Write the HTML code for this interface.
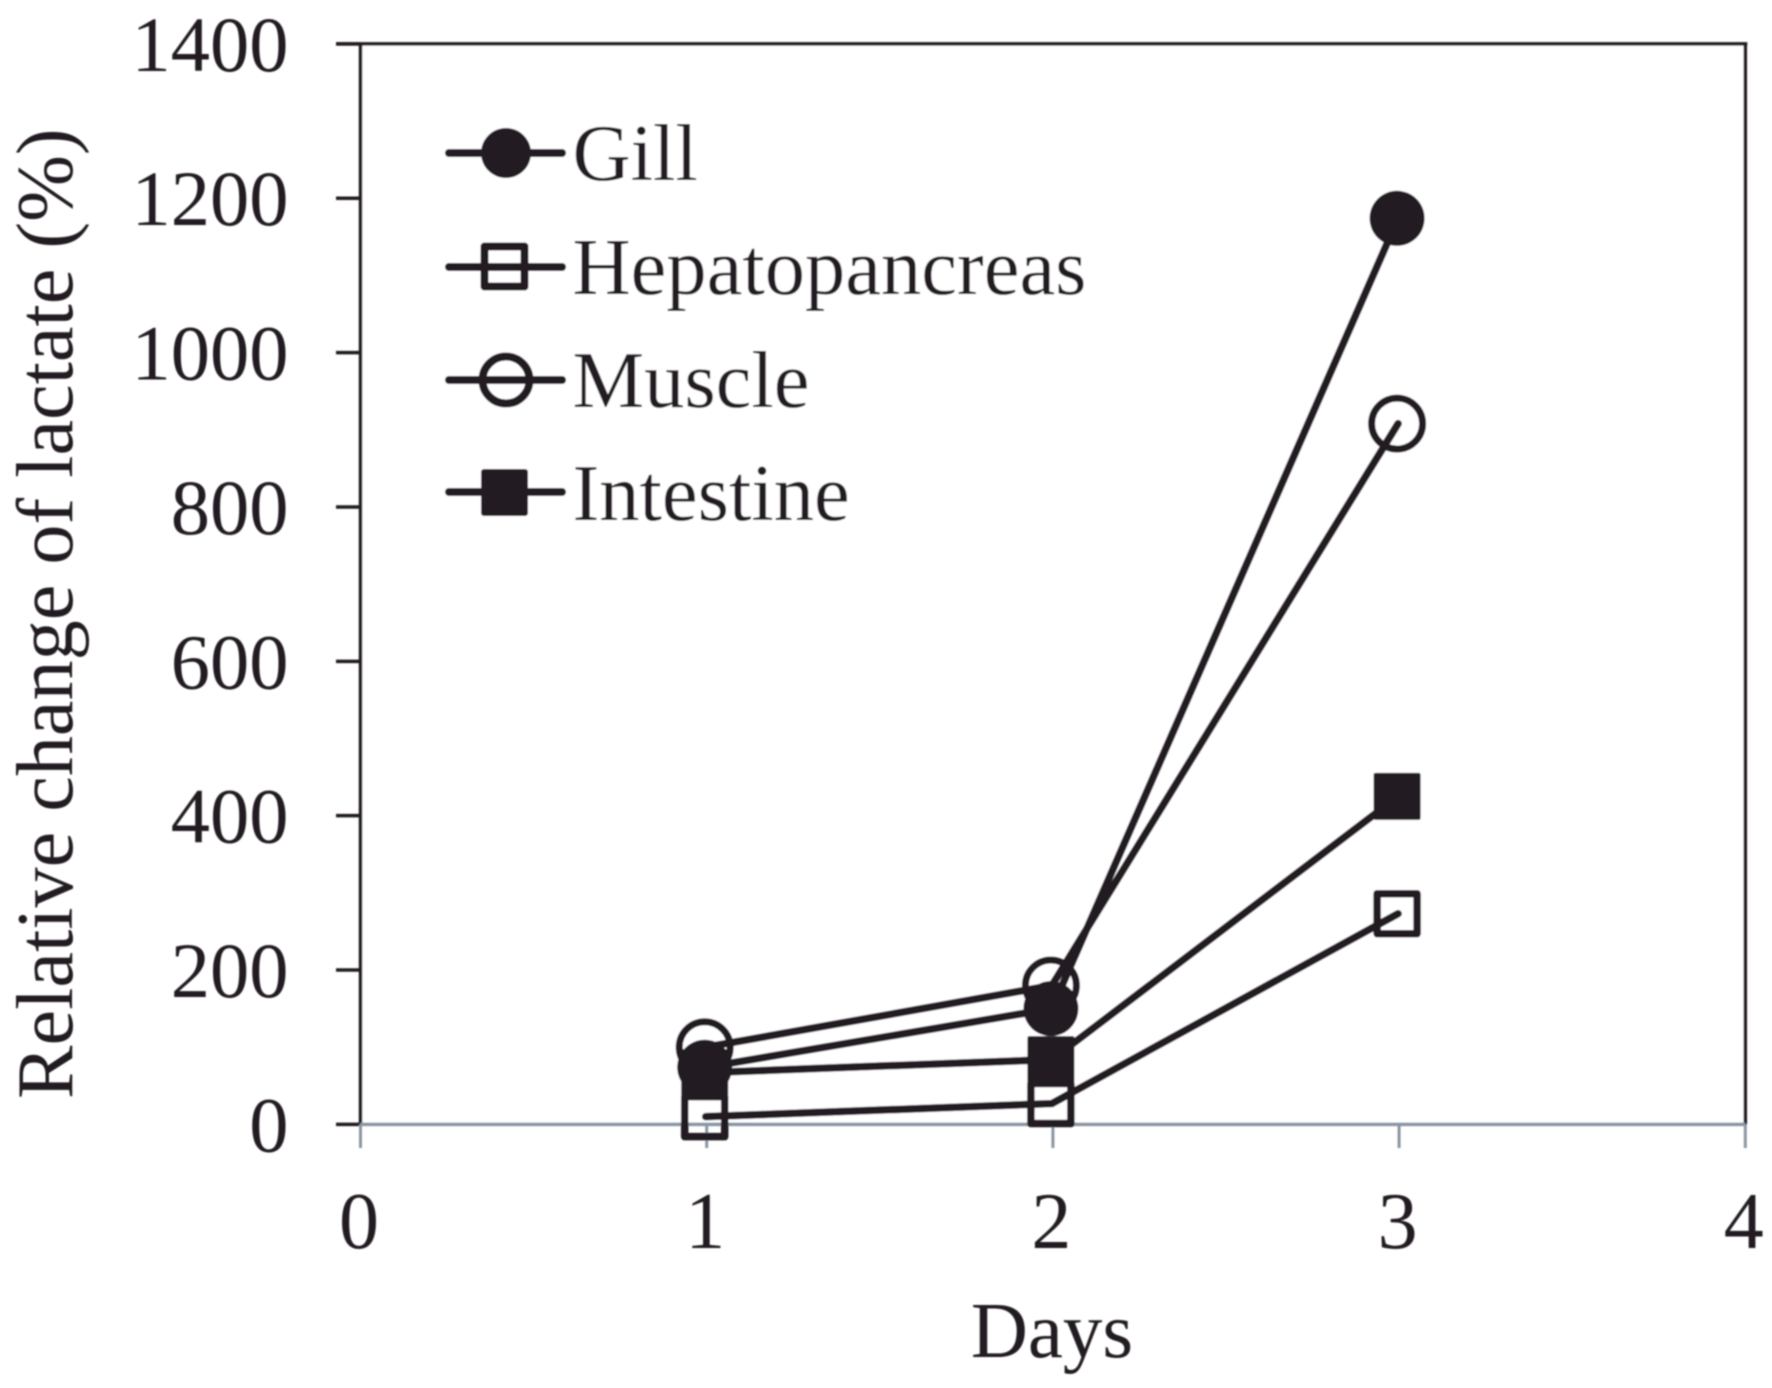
<!DOCTYPE html>
<html lang="en">
<head>
<meta charset="utf-8">
<title>Relative change of lactate</title>
<style>
html,body{margin:0;padding:0;background:#fff;width:1772px;height:1388px;overflow:hidden}
svg{display:block}
text{font-family:"Liberation Serif",serif;font-size:80px;fill:#231f20}
.legend-label{font-size:80.5px}
.y-title{font-size:80.2px}
.y-label{font-size:78.5px}
.x-title{font-size:79px}
</style>
</head>
<body>
<svg id="chart" xmlns="http://www.w3.org/2000/svg" width="1772" height="1388" viewBox="0 0 1772 1388">
<defs><filter id="soft" x="-5%" y="-5%" width="110%" height="110%"><feGaussianBlur stdDeviation="0.9"/></filter></defs>
<g id="root" filter="url(#soft)">
<rect x="361" y="44" width="1384" height="1080" fill="#fff"/>
<g id="axes"></g>
<g id="series"></g>
<text class="y-title" transform="translate(72,1099) rotate(-90)">Relative change of lactate (%)</text>
<text class="x-title" x="1052" y="1357" text-anchor="middle">Days</text>
<g id="legend">
<g>
<line x1="449" y1="153" x2="562" y2="153" stroke="#231f20" stroke-width="8" stroke-linecap="round"/>
<circle cx="506" cy="153" r="25" fill="#231f20"/>
<text class="legend-label" x="572.5" y="180">Gill</text>
</g>
<g>
<line x1="449" y1="267" x2="562" y2="267" stroke="#231f20" stroke-width="8" stroke-linecap="round"/>
<rect x="484.5" y="246.5" width="40" height="40" fill="none" stroke="#231f20" stroke-width="8" stroke-linejoin="round"/>
<text class="legend-label" x="572.5" y="294">Hepatopancreas</text>
</g>
<g>
<line x1="449" y1="380" x2="562" y2="380" stroke="#231f20" stroke-width="8" stroke-linecap="round"/>
<circle cx="506" cy="380" r="23.5" fill="none" stroke="#231f20" stroke-width="8"/>
<text class="legend-label" x="572.5" y="407">Muscle</text>
</g>
<g>
<line x1="449" y1="492" x2="562" y2="492" stroke="#231f20" stroke-width="8" stroke-linecap="round"/>
<rect x="481" y="469" width="47" height="47" rx="3" fill="#231f20"/>
<text class="legend-label" x="572.5" y="520">Intestine</text>
</g>
</g>
</g>
</svg>
<script>
const days = [1, 2, 3];
const gillValues = [74, 150, 1174];
const hepatopancreasValues = [10, 27, 273];
const muscleValues = [100, 180, 908];
const intestineValues = [67, 84, 425];
const yTickLabels = [0, 200, 400, 600, 800, 1000, 1200, 1400];
const xTickLabels = [0, 1, 2, 3, 4];

const NS = 'http://www.w3.org/2000/svg';
const INK = '#231f20';
const GREY = '#8a96a3';
const xScale = v => 360.5 + v * 346.2;
const yScale = v => 1124.4 - v * 0.7718;

function make(tag, attrs, parent) {
  const el = document.createElementNS(NS, tag);
  for (const k in attrs) el.setAttribute(k, attrs[k]);
  parent.appendChild(el);
  return el;
}

const axes = document.getElementById('axes');
const seriesLayer = document.getElementById('series');

// frame
const frameTop = make('line', {x1: 336, y1: yScale(1400), x2: xScale(4) + 2, y2: yScale(1400), stroke: INK, 'stroke-width': 3.5}, axes);


const frameRight = make('line', {x1: xScale(4), y1: yScale(1400), x2: xScale(4), y2: yScale(0), stroke: INK, 'stroke-width': 3.5}, axes);


const yAxisLine = make('line', {x1: xScale(0), y1: yScale(1400), x2: xScale(0), y2: yScale(0), stroke: INK, 'stroke-width': 3.5}, axes);


const xAxisLine = make('line', {x1: xScale(0), y1: yScale(0), x2: xScale(4), y2: yScale(0), stroke: GREY, 'stroke-width': 3.5}, axes);



yTickLabels.forEach(v => {
  const tick = make('line', {x1: 336, y1: yScale(v), x2: xScale(0), y2: yScale(v), stroke: INK, 'stroke-width': 3.5}, axes);
  
  
  const label = make('text', {x: 288.5, y: yScale(v) + 27, 'text-anchor': 'end', class: 'y-label'}, axes);
  
  
  label.textContent = v;
});

xTickLabels.forEach(v => {
  const tick = make('line', {x1: xScale(v), y1: yScale(0), x2: xScale(v), y2: 1148, stroke: GREY, 'stroke-width': 3}, axes);
  
  
  const label = make('text', {x: xScale(v) - 1.5, y: 1248, 'text-anchor': 'middle'}, axes);
  
  
  label.textContent = v;
});

function drawMarker(kind, cx, cy, parent) {
  if (kind === 'filled-circle') return make('circle', {cx, cy, r: 27.5, fill: INK}, parent);
  if (kind === 'open-circle') return make('circle', {cx, cy, r: 25.5, fill: 'none', stroke: INK, 'stroke-width': 7}, parent);
  if (kind === 'open-square') return make('rect', {x: cx - 20, y: cy - 20, width: 40, height: 40, fill: 'none', stroke: INK, 'stroke-width': 7.5, 'stroke-linejoin': 'round'}, parent);
  return make('rect', {x: cx - 23.5, y: cy - 23.5, width: 47, height: 47, rx: 2, fill: INK}, parent);
}

function drawSeries(values, kind, name) {
  const g = make('g', {}, seriesLayer);
  
  
  values.forEach((v, i) => {
    const marker = drawMarker(kind, xScale(days[i]) - 2, yScale(v), g);
    
    
  });
  const pts = values.map((v, i) => (xScale(days[i]) - 1) + ',' + yScale(v)).join(' ');
  const line = make('polyline', {points: pts, fill: 'none', stroke: INK, 'stroke-width': 7.5, 'stroke-linecap': 'round', 'stroke-linejoin': 'round'}, g);
  
  
}

drawSeries(hepatopancreasValues, 'open-square', 'hepatopancreas');
drawSeries(muscleValues, 'open-circle', 'muscle');
drawSeries(gillValues, 'filled-circle', 'gill');
drawSeries(intestineValues, 'filled-square', 'intestine');
</script>
</body>
</html>
